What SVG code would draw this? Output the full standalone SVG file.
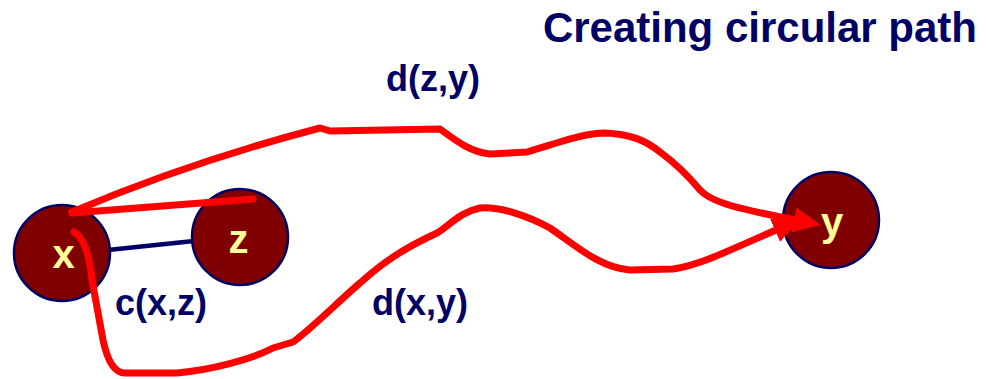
<svg xmlns="http://www.w3.org/2000/svg" width="986" height="379" viewBox="0 0 986 379">
<style>
.node{fill:#800000;stroke:#000066;stroke-width:2.5}
.nl{font-family:"Liberation Sans",Arial,sans-serif;font-weight:bold;font-size:40px;fill:#FFFF99;text-anchor:middle}
.lbl{font-family:"Liberation Sans",Arial,sans-serif;font-weight:bold;font-size:36px;fill:#000066}
.red{fill:none;stroke:#FF0000;stroke-width:7;stroke-linejoin:round;stroke-linecap:round}
.edge{stroke:#000066;stroke-width:4.5}
</style>
<defs>
<marker id="ah" markerUnits="userSpaceOnUse" markerWidth="27" markerHeight="25" refX="1" refY="12.5" orient="auto">
<path d="M0,0 L27,12.5 L0,25 z" fill="#FF0000"/>
</marker>
</defs>
<rect width="986" height="379" fill="#FFFFFF"/>
<text class="lbl" x="977" y="42" style="font-size:42px" text-anchor="end">Creating circular path</text>
<g id="edge-xz"><line class="edge" x1="108" y1="250" x2="194" y2="241"/></g>
<g id="node-x"><circle class="node" cx="62" cy="253" r="48"/><text class="nl" x="63.5" y="268">x</text></g>
<g id="node-z"><circle class="node" cx="240" cy="237" r="48"/><text class="nl" x="238.5" y="253">z</text></g>
<g id="node-y"><circle class="node" cx="831" cy="220" r="48"/><text class="nl" x="832" y="236">y</text></g>
<g id="connectors">
<path class="red" marker-end="url(#ah)" d="M72,212 Q190,162 320,128 L330,131 L440,129 C455,140 470,152 490,154 L527,152 C560,142 585,133 605,133 C630,134 645,140 660,152 C675,163 690,178 700,190 C712,203 740,209 795,220"/>
<path class="red" d="M72,213 L253,199"/>
<path class="red" marker-end="url(#ah)" d="M74,232 Q88,240 92,280 L103,340 Q110,373 125,373 L177,373 C210,370 250,360 273,348 L293,342 C310,330 340,300 360,283 C380,265 400,250 437,233 C450,225 460,212 480,208 C500,206 530,217 550,228 C575,245 600,268 630,270 L673,269 C700,265 730,250 776,230"/>
</g>
<g id="labels">
<text class="lbl" x="386" y="91">d(z,y)</text>
<text class="lbl" x="115" y="315">c(x,z)</text>
<text class="lbl" x="372" y="315">d(x,y)</text>
</g>
</svg>
